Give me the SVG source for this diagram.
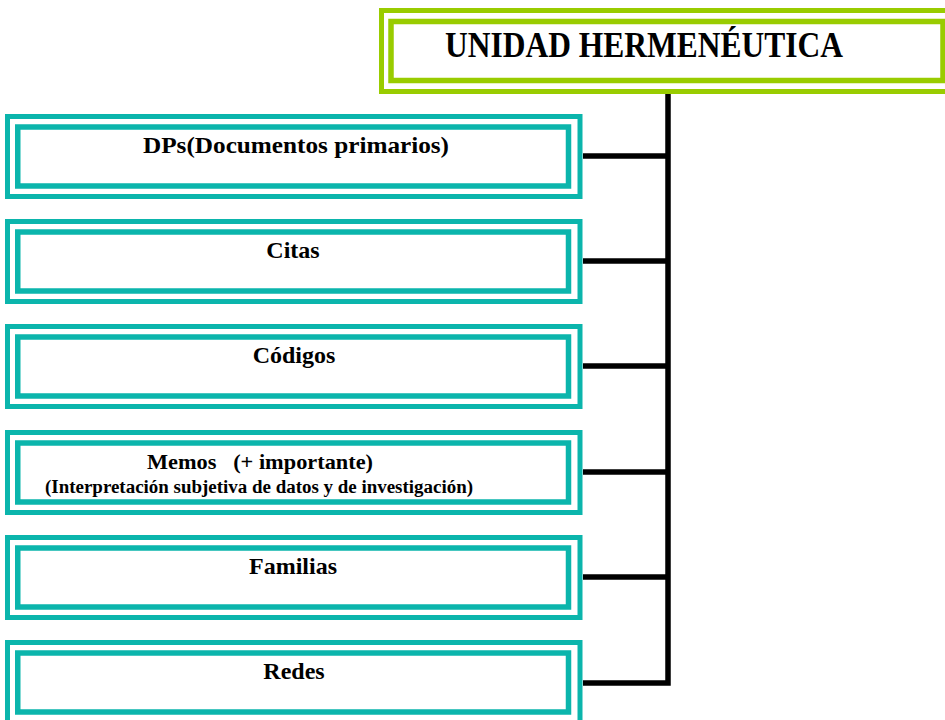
<svg xmlns="http://www.w3.org/2000/svg" width="945" height="720" viewBox="0 0 945 720">
<style>
text{font-family:'Liberation Serif','Times New Roman',serif;font-weight:bold;fill:#000}
.t{font-size:24px;text-anchor:middle}
.o{fill:none;stroke:#0BB5AC;stroke-width:5}
.i{fill:none;stroke:#0BB5AC;stroke-width:5.5}
.go{fill:none;stroke:#99CC00;stroke-width:5}
.gi{fill:none;stroke:#99CC00;stroke-width:5.5}
.c{fill:none;stroke:#000;stroke-width:5.5}
</style>
<rect width="945" height="720" fill="#fff"/>
<g id="unidad">
<rect class="go" x="381.5" y="10.5" width="600" height="81"/>
<rect class="gi" x="391" y="21.5" width="552" height="59"/>
<text x="445" y="57" style="font-size:35px" textLength="398" lengthAdjust="spacingAndGlyphs">UNIDAD HERMENÉUTICA</text>
</g>
<g id="connectors">
<polyline class="c" points="668,94 668,683 583,683"/>
<line class="c" x1="583" y1="156" x2="668" y2="156"/>
<line class="c" x1="583" y1="261" x2="668" y2="261"/>
<line class="c" x1="583" y1="366" x2="668" y2="366"/>
<line class="c" x1="583" y1="472" x2="668" y2="472"/>
<line class="c" x1="583" y1="577" x2="668" y2="577"/>
</g>
<g id="dps">
<rect class="o" x="7.5" y="116.5" width="572.5" height="80"/>
<rect class="i" x="17.75" y="127" width="550.75" height="59"/>
<text class="t" x="296" y="153" textLength="306" lengthAdjust="spacingAndGlyphs">DPs(Documentos primarios)</text>
</g>
<g id="citas">
<rect class="o" x="7.5" y="221.5" width="572.5" height="80"/>
<rect class="i" x="17.75" y="232" width="550.75" height="59"/>
<text class="t" x="293" y="258">Citas</text>
</g>
<g id="codigos">
<rect class="o" x="7.5" y="326.5" width="572.5" height="80"/>
<rect class="i" x="17.75" y="337" width="550.75" height="59"/>
<text class="t" x="294" y="363">Códigos</text>
</g>
<g id="memos">
<rect class="o" x="7.5" y="432.5" width="572.5" height="80"/>
<rect class="i" x="17.75" y="443" width="550.75" height="59"/>
<text x="147" y="469" style="font-size:22px" xml:space="preserve" textLength="226" lengthAdjust="spacingAndGlyphs">Memos   (+ importante)</text>
<text x="45" y="493" style="font-size:18px" textLength="428" lengthAdjust="spacingAndGlyphs">(Interpretación subjetiva de datos y de investigación)</text>
</g>
<g id="familias">
<rect class="o" x="7.5" y="537.5" width="572.5" height="80"/>
<rect class="i" x="17.75" y="548" width="550.75" height="59"/>
<text class="t" x="293" y="574">Familias</text>
</g>
<g id="redes">
<rect class="o" x="7.5" y="642.5" width="572.5" height="80"/>
<rect class="i" x="17.75" y="653" width="550.75" height="59"/>
<text class="t" x="294" y="679">Redes</text>
</g>
</svg>
